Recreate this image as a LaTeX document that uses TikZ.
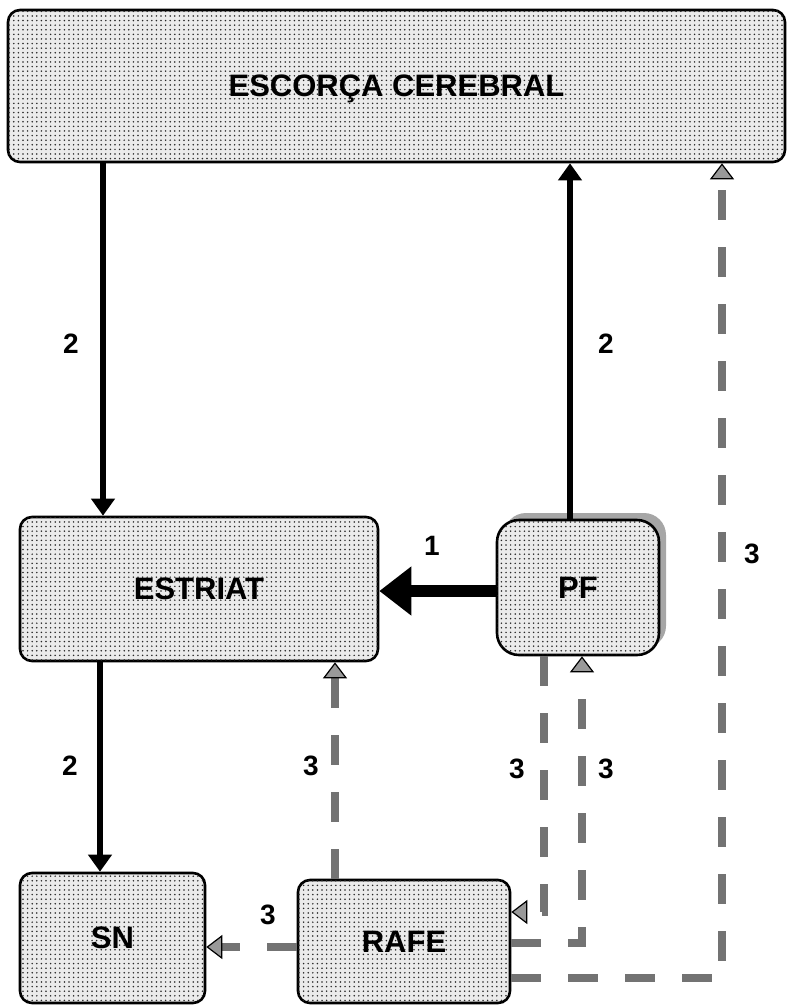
\documentclass[tikz,border=0pt]{standalone}
\usepackage{fontspec}
\setmainfont{Liberation Sans}
\usetikzlibrary{arrows.meta,patterns.meta,shadows}
\tikzdeclarepattern{
  name=boxdots,
  type=uncolored,
  bottom left={(-1pt,-1pt)},
  top right={(4pt,4pt)},
  tile size={(4.6pt,4.6pt)},
  code={\fill (0pt,0pt) circle (0.85pt);}
}
\tikzset{
  box/.style={draw, line width=2.6pt, rounded corners=12pt, fill=black!8,
    postaction={pattern=boxdots, pattern color=black!85},
    font=\fontsize{31}{36}\selectfont\bfseries, text depth=0pt, inner sep=0pt},
  lbl/.style={font=\fontsize{28}{32}\selectfont\bfseries, inner sep=0pt},
  solidarrow/.style={line width=6pt, -{Triangle[width=23pt,length=17pt]}},
  bigarrow/.style={line width=12pt, -{Triangle[width=47pt,length=32pt]}},
  grayarrow/.style={line width=7.5pt, color=black!55, dash pattern=on 30pt off 27pt,
    -{Triangle[width=24pt,length=16pt,line width=1.2pt,fill=black!40,color=black]}},
}
\begin{document}
\begin{tikzpicture}[x=1pt,y=-1pt]
\useasboundingbox (0,0) rectangle (787,1005);
% boxes
\node[box, minimum width=777pt, minimum height=152pt] (cortex) at (396.5,86) {ESCORÇA CEREBRAL};
\node[box, minimum width=358pt, minimum height=144pt] (estriat) at (199,589) {ESTRIAT};
\node[box, rounded corners=22pt, minimum width=162pt, minimum height=135pt,
  drop shadow={shadow xshift=7pt, shadow yshift=7pt, fill=black!35, opacity=1}] (pf) at (578,587.5) {PF};
\node[box, minimum width=185pt, minimum height=130pt] (sn) at (112.5,938) {SN};
\node[box, minimum width=212pt, minimum height=123pt] (rafe) at (404,941.5) {RAFE};
% corner coordinates for dashed routes
\coordinate (c1) at (544,912);
\coordinate (c2) at (582,943);
\coordinate (c3) at (722,978);
% solid arrows
\draw[solidarrow] (cortex.south -| 103,0) -- (estriat.north -| 103,0);
\draw[solidarrow] (pf.north -| 570,0) -- (cortex.south -| 570,0);
\draw[solidarrow] (estriat.south -| 100,0) -- (sn.north -| 100,0);
\draw[bigarrow] (pf.west |- 0,591) -- (estriat.east |- 0,591);
% dashed gray arrows
\draw[grayarrow] (rafe.north -| 335,0) -- (estriat.south -| 335,0);
\draw[grayarrow] (rafe.west |- 0,947) -- (sn.east |- 0,947);
\draw[grayarrow] (pf.south -| c1) -- (c1) -- (rafe.east |- c1);
\draw[grayarrow] (rafe.east |- c2) -- (c2) -- (pf.south -| c2);
\draw[grayarrow] (rafe.east |- c3) -- (c3) -- (cortex.south -| c3);
% labels
\node[lbl] (l1) at (71,344) {2};
\node[lbl] (l2) at (606,344) {2};
\node[lbl] (l3) at (432,546) {1};
\node[lbl] (l4) at (70,766) {2};
\node[lbl] (l5) at (311,766) {3};
\node[lbl] (l6) at (517,769) {3};
\node[lbl] (l7) at (606,769) {3};
\node[lbl] (l8) at (752,554) {3};
\node[lbl] (l9) at (268,915) {3};
\end{tikzpicture}
\end{document}
